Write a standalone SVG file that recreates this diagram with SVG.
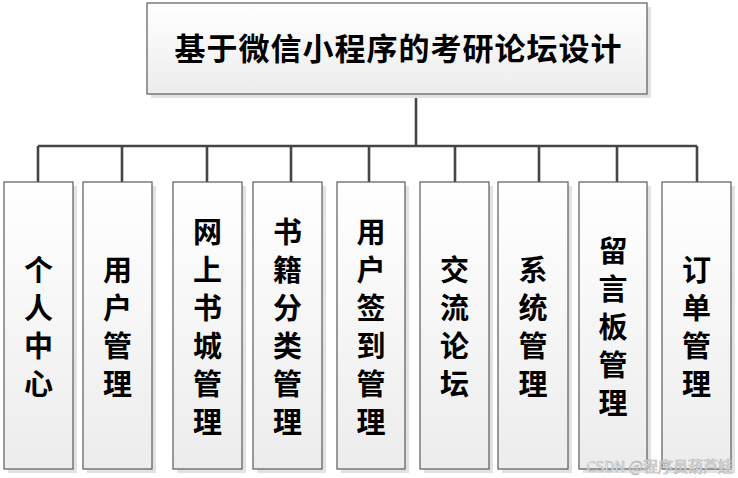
<svg xmlns="http://www.w3.org/2000/svg" width="738" height="478" viewBox="0 0 738 478">
<defs>
<linearGradient id="g" x1="0" y1="0" x2="0" y2="1">
<stop offset="0" stop-color="#ffffff"/>
<stop offset="1" stop-color="#ececec"/>
</linearGradient>
<style>
.box{fill:url(#g);stroke:#5a5a5a;stroke-width:1.2}
.sh{fill:#e2e2e2}
.t{font-family:"Noto Sans CJK SC","Noto Sans CJK JP",sans-serif;font-weight:bold;fill:#000;text-anchor:middle}
.c{font-size:29px}
.conn{stroke:#454545;stroke-width:2.6;fill:none}
</style>
</defs>
<rect width="738" height="478" fill="#fff"/>
<g id="connectors">
<path class="conn" d="M416 94V146M38 146H697M38 146V182M122 146V182M207 146V182M291 146V182M369 146V182M455 146V182M539 146V182M617 146V182M697 146V182"/>
</g>
<g id="root">
<rect class="sh" x="151" y="7" width="500" height="91"/>
<rect class="box" x="147" y="3" width="500" height="91"/>
<text class="t" x="398" y="60" font-size="31" textLength="447" lengthAdjust="spacing">基于微信小程序的考研论坛设计</text>
</g>
<g id="n1">
<rect class="sh" x="8" y="186" width="69" height="287"/>
<rect class="box" x="4" y="182" width="69" height="287"/>
<text class="t c" x="38.5"><tspan x="38.5" y="281">个</tspan><tspan x="38.5" y="319">人</tspan><tspan x="38.5" y="357">中</tspan><tspan x="38.5" y="395">心</tspan></text>
</g>
<g id="n2">
<rect class="sh" x="87" y="186" width="69" height="287"/>
<rect class="box" x="83" y="182" width="69" height="287"/>
<text class="t c"><tspan x="117.5" y="281">用</tspan><tspan x="117.5" y="319">户</tspan><tspan x="117.5" y="357">管</tspan><tspan x="117.5" y="395">理</tspan></text>
</g>
<g id="n3">
<rect class="sh" x="177" y="186" width="69" height="287"/>
<rect class="box" x="173" y="182" width="69" height="287"/>
<text class="t c"><tspan x="207.5" y="243">网</tspan><tspan x="207.5" y="281">上</tspan><tspan x="207.5" y="319">书</tspan><tspan x="207.5" y="357">城</tspan><tspan x="207.5" y="395">管</tspan><tspan x="207.5" y="433">理</tspan></text>
</g>
<g id="n4">
<rect class="sh" x="257" y="186" width="69" height="287"/>
<rect class="box" x="253" y="182" width="69" height="287"/>
<text class="t c"><tspan x="287.5" y="243">书</tspan><tspan x="287.5" y="281">籍</tspan><tspan x="287.5" y="319">分</tspan><tspan x="287.5" y="357">类</tspan><tspan x="287.5" y="395">管</tspan><tspan x="287.5" y="433">理</tspan></text>
</g>
<g id="n5">
<rect class="sh" x="341" y="186" width="68" height="287"/>
<rect class="box" x="337" y="182" width="68" height="287"/>
<text class="t c"><tspan x="371" y="243">用</tspan><tspan x="371" y="281">户</tspan><tspan x="371" y="319">签</tspan><tspan x="371" y="357">到</tspan><tspan x="371" y="395">管</tspan><tspan x="371" y="433">理</tspan></text>
</g>
<g id="n6">
<rect class="sh" x="424" y="186" width="69" height="287"/>
<rect class="box" x="420" y="182" width="69" height="287"/>
<text class="t c"><tspan x="454.5" y="281">交</tspan><tspan x="454.5" y="319">流</tspan><tspan x="454.5" y="357">论</tspan><tspan x="454.5" y="395">坛</tspan></text>
</g>
<g id="n7">
<rect class="sh" x="502" y="186" width="70" height="287"/>
<rect class="box" x="498" y="182" width="70" height="287"/>
<text class="t c"><tspan x="533" y="281">系</tspan><tspan x="533" y="319">统</tspan><tspan x="533" y="357">管</tspan><tspan x="533" y="395">理</tspan></text>
</g>
<g id="n8">
<rect class="sh" x="583" y="186" width="68" height="287"/>
<rect class="box" x="579" y="182" width="68" height="287"/>
<text class="t c"><tspan x="613" y="262">留</tspan><tspan x="613" y="300">言</tspan><tspan x="613" y="338">板</tspan><tspan x="613" y="376">管</tspan><tspan x="613" y="414">理</tspan></text>
</g>
<g id="n9">
<rect class="sh" x="666" y="186" width="69" height="287"/>
<rect class="box" x="662" y="182" width="69" height="287"/>
<text class="t c"><tspan x="696.5" y="281">订</tspan><tspan x="696.5" y="319">单</tspan><tspan x="696.5" y="357">管</tspan><tspan x="696.5" y="395">理</tspan></text>
</g>
<text x="733" y="472" font-family="'Noto Sans CJK SC',sans-serif" font-size="15" fill="#f6f6f6" stroke="#b0b0b0" stroke-width="0.6" text-anchor="end">CSDN @程序员葫芦娃</text>
</svg>
